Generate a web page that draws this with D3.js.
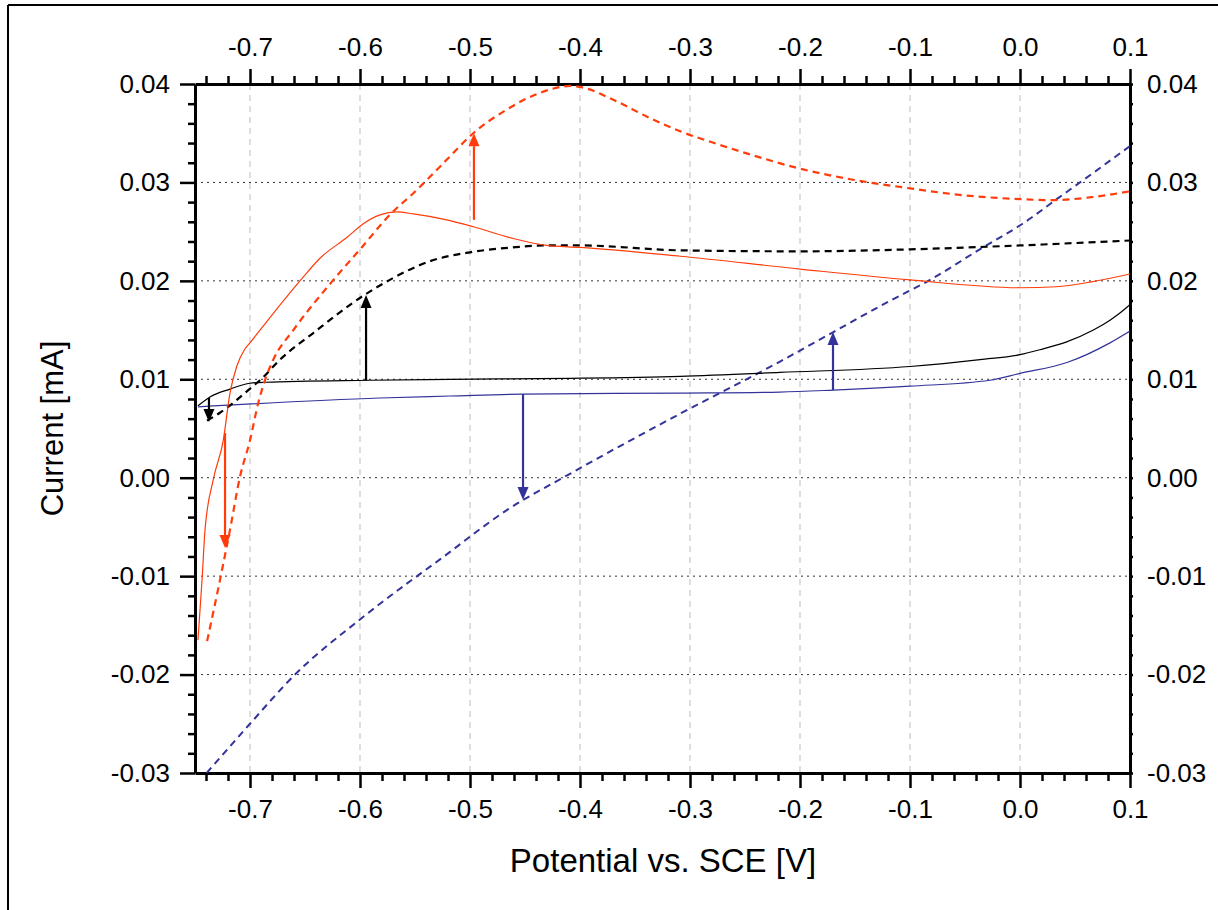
<!DOCTYPE html>
<html>
<head>
<meta charset="utf-8">
<script src="https://cdn.jsdelivr.net/npm/d3@7"></script>
<style>
  html, body { margin: 0; padding: 0; background: #fff; }
  svg { display: block; font-family: "Liberation Sans", Arial, Helvetica, sans-serif; }
</style>
</head>
<body>
<svg id="chart" width="1218" height="910"></svg>
<script>
// ---- data (Potential V, Current mA) ----
const xTicks = [-0.7, -0.6, -0.5, -0.4, -0.3, -0.2, -0.1, 0.0, 0.1];
const xTickLabels = ["-0.7", "-0.6", "-0.5", "-0.4", "-0.3", "-0.2", "-0.1", "0.0", "0.1"];
const yTicks = [-0.03, -0.02, -0.01, 0.00, 0.01, 0.02, 0.03, 0.04];
const yTickLabels = ["-0.03", "-0.02", "-0.01", "0.00", "0.01", "0.02", "0.03", "0.04"];

const blackSolidX = [-0.7473, -0.7364, -0.7182, -0.7, -0.6864, -0.5909, -0.5182, -0.4091, -0.309, -0.2182, -0.1, -0.0364, 0.0, 0.018, 0.0424, 0.0667, 0.0818, 0.097, 0.1];
const blackSolidY = [0.0073, 0.0082, 0.0090, 0.0096, 0.0097, 0.0099, 0.0100, 0.0101, 0.0103, 0.0107, 0.0113, 0.0120, 0.0125, 0.0130, 0.0138, 0.0150, 0.0160, 0.0173, 0.0176];

const blackDashX = [-0.7391, -0.7273, -0.6973, -0.6909, -0.6727, -0.6425, -0.5955, -0.5697, -0.5364, -0.5, -0.4609, -0.43, -0.4, -0.309, -0.2, -0.1, 0.0, 0.1];
const blackDashY = [0.0058, 0.0066, 0.0093, 0.0099, 0.0120, 0.0147, 0.0186, 0.0203, 0.0220, 0.0229, 0.0234, 0.0236, 0.0236, 0.0231, 0.0230, 0.0232, 0.0236, 0.0241];

const blueSolidX = [-0.7473, -0.5818, -0.5182, -0.4518, -0.309, -0.2182, -0.17, -0.1, -0.0273, 0.0, 0.0427, 0.0818, 0.1];
const blueSolidY = [0.0072, 0.0081, 0.0083, 0.0085, 0.0086, 0.0087, 0.0089, 0.0093, 0.0099, 0.0106, 0.0117, 0.0137, 0.0149];

const blueDashX = [-0.7394, -0.7, -0.6591, -0.6, -0.5818, -0.5273, -0.4652, -0.4091, -0.309, -0.2182, -0.1697, -0.1161, -0.0849, -0.0351, 0.0023, 0.0334, 0.0645, 0.1];
const blueDashY = [-0.0300, -0.0250, -0.0200, -0.0144, -0.0128, -0.0083, -0.0032, 0.0004, 0.0065, 0.0118, 0.0148, 0.0181, 0.0199, 0.0233, 0.0258, 0.0283, 0.0308, 0.0337];

const redSolidX = [-0.7473, -0.7436, -0.7409, -0.7334, -0.7243, -0.7182, -0.7121, -0.7045, -0.7, -0.6909, -0.6788, -0.6515, -0.6364, -0.612, -0.597, -0.5818, -0.5666, -0.5515, -0.5212, -0.497, -0.4606, -0.4303, -0.4, -0.309, -0.2, -0.1, 0.0, 0.033, 0.065, 0.1];
const redSolidY = [-0.0165, -0.0104, -0.0053, -0.0002, 0.0038, 0.0086, 0.0113, 0.0131, 0.0137, 0.0150, 0.0167, 0.0204, 0.0223, 0.0244, 0.0258, 0.0267, 0.0270, 0.0268, 0.0262, 0.0255, 0.0243, 0.0236, 0.0234, 0.0225, 0.0212, 0.0201, 0.0193, 0.0194, 0.0199, 0.0207];

const redDashX = [-0.739, -0.7273, -0.7182, -0.7091, -0.7, -0.6925, -0.6864, -0.6788, -0.6606, -0.6257, -0.6, -0.5712, -0.5515, -0.5212, -0.497, -0.4666, -0.4364, -0.4091, -0.4, -0.3697, -0.3394, -0.309, -0.278, -0.247, -0.2, -0.153, -0.1, -0.06, 0.0, 0.03, 0.065, 0.1];
const redDashY = [-0.0166, -0.0104, -0.0053, 0.0001, 0.0038, 0.0076, 0.0099, 0.0120, 0.0150, 0.0199, 0.0232, 0.0269, 0.0289, 0.0323, 0.0350, 0.0374, 0.0391, 0.0398, 0.0397, 0.0384, 0.0367, 0.0352, 0.0340, 0.0329, 0.0314, 0.0303, 0.0294, 0.0288, 0.0283, 0.0282, 0.0285, 0.0291];

// arrows: x, from-y, to-y
const arrowNames  = ["redUp", "redDown", "blackUp", "blackDown", "blueDown", "blueUp"];
const arrowX      = [-0.4964, -0.7227, -0.5945, -0.7373, -0.4518, -0.17];
const arrowFromY  = [0.0262, 0.00454, 0.0099, 0.0081, 0.0085, 0.0089];
const arrowToY    = [0.0350, -0.00714, 0.01856, 0.00566, -0.00227, 0.0148];

// ---- style ----
const RED = "#ff3c0a", BLUE = "#33339a", BLACK = "#000";
const arrowColor = [RED, RED, BLACK, BLACK, BLUE, BLUE];

const svg = d3.select("#chart");
const L = 195, R = 1130, T = 84, B = 773;
const x = d3.scaleLinear().domain([-0.75, 0.1]).range([L, R]);
const y = d3.scaleLinear().domain([-0.03, 0.04]).range([B, T]);

// outer frame
svg.append("line").attr("x1", 8).attr("x2", 1218).attr("y1", 5).attr("y2", 5).attr("stroke", "#000").attr("stroke-width", 2);
svg.append("line").attr("x1", 8).attr("x2", 8).attr("y1", 5).attr("y2", 910).attr("stroke", "#000").attr("stroke-width", 2);

svg.append("clipPath").attr("id", "clip").append("rect").attr("x", L).attr("y", T).attr("width", R - L).attr("height", B - T);

// grid
const grid = svg.append("g");
grid.selectAll(".vg").data(xTicks.filter(v => v < 0.09)).enter().append("line")
  .attr("x1", d => x(d)).attr("x2", d => x(d)).attr("y1", T).attr("y2", B)
  .attr("stroke", "#bdbdbd").attr("stroke-width", 1).attr("stroke-dasharray", "6,5");
grid.selectAll(".hg").data(yTicks.filter(v => v > -0.029 && v < 0.039)).enter().append("line")
  .attr("x1", L).attr("x2", R).attr("y1", d => y(d)).attr("y2", d => y(d))
  .attr("stroke", "#333").attr("stroke-width", 1).attr("stroke-dasharray", "2,4");

// axes
const minorX = d3.range(-0.74, 0.1001, 0.02).map(v => +v.toFixed(3)).filter(v => !xTicks.some(t => Math.abs(t - v) < 1e-6));
const minorY = d3.range(-0.03, 0.0401, 0.002).map(v => +v.toFixed(4)).filter(v => !yTicks.some(t => Math.abs(t - v) < 1e-6));
const fmtX = (d) => xTickLabels[xTicks.findIndex(t => Math.abs(t - d) < 1e-9)];
const fmtY = (d) => yTickLabels[yTicks.findIndex(t => Math.abs(t - d) < 1e-9)];

function styleAxis(g) {
  g.select(".domain").attr("stroke-width", 3);
  g.selectAll(".tick line").attr("stroke-width", 2.5);
  g.selectAll("text").attr("font-size", 26).attr("fill", "#000").attr("font-family", "Liberation Sans, Arial, sans-serif");
}
// bottom
svg.append("g").attr("transform", `translate(0,${B})`)
  .call(d3.axisBottom(x).tickValues(minorX).tickSize(8).tickFormat(""))
  .call(g => { g.select(".domain").remove(); g.selectAll(".tick line").attr("stroke-width", 2.5); });
svg.append("g").attr("transform", `translate(0,${B})`)
  .call(d3.axisBottom(x).tickValues(xTicks).tickSize(15).tickSizeOuter(0).tickPadding(12).tickFormat(fmtX))
  .call(styleAxis);
// top
svg.append("g").attr("transform", `translate(0,${T})`)
  .call(d3.axisTop(x).tickValues(minorX).tickSize(8).tickFormat(""))
  .call(g => { g.select(".domain").remove(); g.selectAll(".tick line").attr("stroke-width", 2.5); });
svg.append("g").attr("transform", `translate(0,${T})`)
  .call(d3.axisTop(x).tickValues(xTicks).tickSize(15).tickSizeOuter(0).tickPadding(13).tickFormat(fmtX))
  .call(styleAxis);
// left
svg.append("g").attr("transform", `translate(${L},0)`)
  .call(d3.axisLeft(y).tickValues(minorY).tickSize(7).tickFormat(""))
  .call(g => { g.select(".domain").remove(); g.selectAll(".tick line").attr("stroke-width", 2.5); });
svg.append("g").attr("transform", `translate(${L},0)`)
  .call(d3.axisLeft(y).tickValues(yTicks).tickSize(15).tickSizeOuter(0).tickPadding(10).tickFormat(fmtY))
  .call(styleAxis);
// right
svg.append("g").attr("transform", `translate(${R},0)`)
  .call(d3.axisRight(y).tickValues(minorY).tickSize(3).tickFormat(""))
  .call(g => { g.select(".domain").remove(); g.selectAll(".tick line").attr("stroke-width", 2.5); });
svg.append("g").attr("transform", `translate(${R},0)`)
  .call(d3.axisRight(y).tickValues(yTicks).tickSize(3).tickSizeOuter(0).tickPadding(14).tickFormat(fmtY))
  .call(styleAxis);

// curves
const plot = svg.append("g").attr("clip-path", "url(#clip)");
const line = d3.line().x(d => x(d[0])).y(d => y(d[1])).curve(d3.curveMonotoneX);
const zip = (a, b) => a.map((v, i) => [v, b[i]]);
const series = [
  { xs: blueDashX, ys: blueDashY, color: BLUE, w: 2, dash: "7,5" },
  { xs: blueSolidX, ys: blueSolidY, color: BLUE, w: 1.2, dash: null },
  { xs: blackSolidX, ys: blackSolidY, color: BLACK, w: 1.2, dash: null },
  { xs: blackDashX, ys: blackDashY, color: BLACK, w: 2.2, dash: "7,5" },
  { xs: redSolidX, ys: redSolidY, color: RED, w: 1.2, dash: null },
  { xs: redDashX, ys: redDashY, color: RED, w: 2.2, dash: "7,5" }
];
series.forEach(s => {
  plot.append("path").attr("d", line(zip(s.xs, s.ys)))
    .attr("fill", "none").attr("stroke", s.color).attr("stroke-width", s.w)
    .attr("stroke-dasharray", s.dash);
});

// arrows
arrowNames.forEach((n, i) => {
  const ax = x(arrowX[i]), y0 = y(arrowFromY[i]), y1 = y(arrowToY[i]);
  const dir = y1 < y0 ? -1 : 1;
  const headLen = 13, headW = 5.5;
  const baseY = y1 - dir * headLen;
  svg.append("line").attr("x1", ax).attr("x2", ax).attr("y1", y0).attr("y2", baseY)
    .attr("stroke", arrowColor[i]).attr("stroke-width", 2.2);
  svg.append("path")
    .attr("d", `M${ax},${y1} L${ax - headW},${baseY} L${ax + headW},${baseY} Z`)
    .attr("fill", arrowColor[i]);
});

// axis titles
svg.append("text").attr("x", 663).attr("y", 872).attr("text-anchor", "middle")
  .attr("font-size", 33).text("Potential vs. SCE [V]");
svg.append("text").attr("transform", `translate(63,${(T + B) / 2}) rotate(-90)`).attr("text-anchor", "middle")
  .attr("font-size", 31).text("Current [mA]");
</script>
</body>
</html>
